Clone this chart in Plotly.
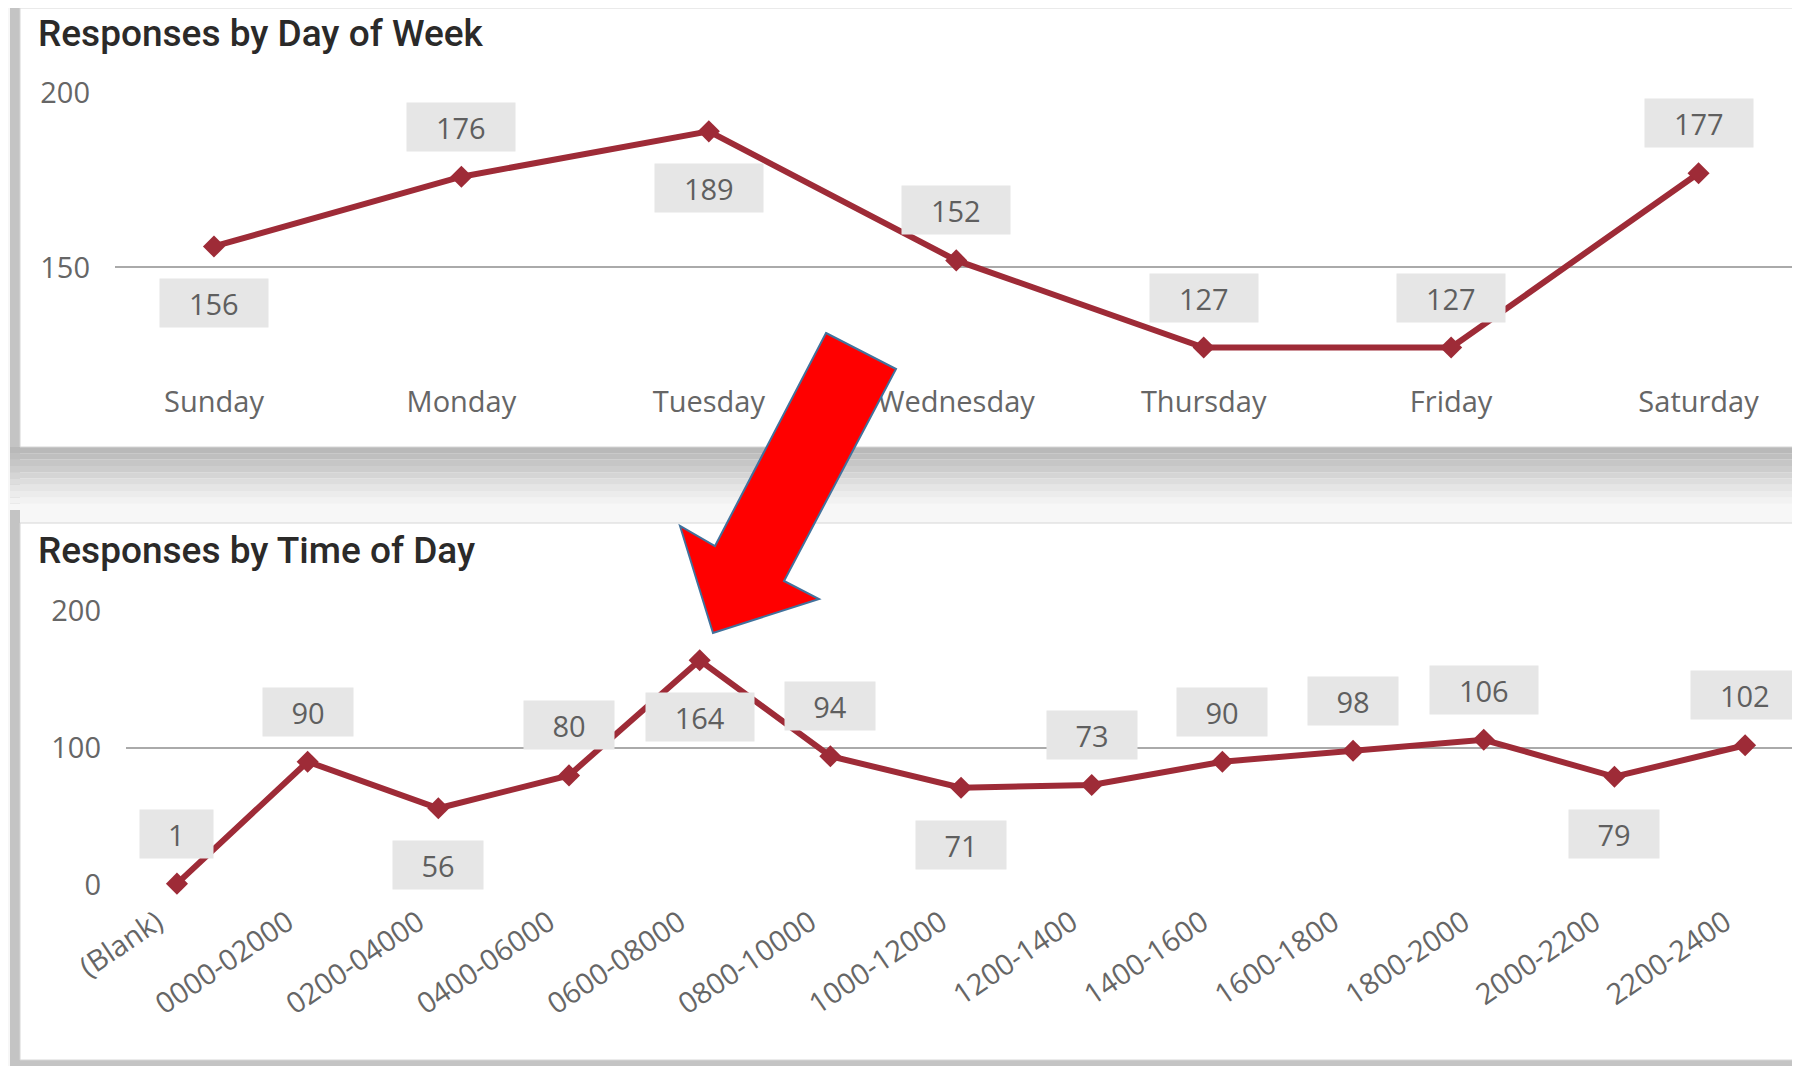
import plotly.graph_objs as go

days = ['Sunday', 'Monday', 'Tuesday', 'Wednesday', 'Thursday', 'Friday', 'Saturday']
day_counts = [156, 176, 189, 152, 127, 127, 177]

time_slots = ['(Blank)', '0000-02000', '0200-04000', '0400-06000', '0600-08000', '0800-10000',
              '1000-12000', '1200-1400', '1400-1600', '1600-1800', '1800-2000', '2000-2200', '2200-2400']
time_counts = [1, 90, 56, 80, 164, 94, 71, 73, 90, 98, 106, 79, 102]

day_ticks = [150, 200]
time_ticks = [0, 100, 200]

# where each data label sits relative to its point
day_label_side = ['below', 'above', 'below', 'above', 'above', 'above', 'above']
time_label_side = ['above', 'above', 'below', 'above', 'below', 'above', 'below',
                   'above', 'above', 'above', 'above', 'below', 'above']

# the page body adds an 8px margin, so the figure is drawn 8px smaller and offset
OFF = 8
W, H = 1800 - OFF, 1066 - OFF
LINE = '#9e2b37'
TICK_FONT = dict(family='Open Sans', size=29, color='#666666')


def px(x, y):
    return (x - OFF) / W, 1 - (y - OFF) / H


def rect(x0, y0, x1, y1, fill, line=None):
    a = px(x0, y0)
    b = px(x1, y1)
    return dict(type='rect', xref='paper', yref='paper', x0=a[0], y0=b[1], x1=b[0], y1=a[1],
                fillcolor=fill, line=dict(color=line or fill, width=1 if line else 0), layer='below')


fig = go.Figure()
fig.add_trace(go.Scatter(x=days, y=day_counts, mode='lines+markers', xaxis='x', yaxis='y',
                         line=dict(color=LINE, width=6), marker=dict(symbol='diamond', size=17, color=LINE),
                         cliponaxis=False, hoverinfo='x+y'))
fig.add_trace(go.Scatter(x=time_slots, y=time_counts, mode='lines+markers', xaxis='x2', yaxis='y2',
                         line=dict(color=LINE, width=6), marker=dict(symbol='diamond', size=17, color=LINE),
                         cliponaxis=False, hoverinfo='x+y'))

annotations = []


def add_labels(xs, ys, sides, xref, yref):
    for x, y, side in zip(xs, ys, sides):
        n = len(str(y))
        box_w = 55 + 17.5 * n
        annotations.append(dict(x=x, y=y, xref=xref, yref=yref, text=str(y), showarrow=False,
                                yshift=50 if side == 'above' else -57,
                                font=dict(family='Open Sans', size=29, color='#5f5f5f'),
                                bgcolor='#e6e6e6', borderpad=6, width=box_w - 12, height=36))


add_labels(days, day_counts, day_label_side, 'x', 'y')
add_labels(time_slots, time_counts, time_label_side, 'x2', 'y2')

title_font = dict(family='Roboto', size=37, color='#2b2a29', weight=500)
annotations.append(dict(x=px(36, 0)[0], y=px(0, 33)[1], xref='paper', yref='paper', xanchor='left',
                        yanchor='middle', text='Responses by Day of Week', showarrow=False, font=title_font))
annotations.append(dict(x=px(36, 0)[0], y=px(0, 550)[1], xref='paper', yref='paper', xanchor='left',
                        yanchor='middle', text='Responses by Time of Day', showarrow=False, font=title_font))

shapes = []
# card frames and shadows
shapes.append(rect(0, 0, 1800, 1066, '#f7f7f7'))
shapes.append(rect(10, 6, 20, 1066, '#c4c4c4'))
grays = ['#b9b9b9', '#bfbfbf', '#c6c6c6', '#cdcdcd', '#d5d5d5', '#dddddd', '#e5e5e5', '#ececec',
         '#f2f2f2', '#f7f7f7']
for i, g in enumerate(grays):
    shapes.append(rect(10, 447 + i * 6.3, 1795, 447 + (i + 1) * 6.3, g))
shapes.append(rect(10, 1060, 1800, 1066, '#c4c4c4'))
shapes.append(rect(20, 8, 1805, 447, 'white', '#d6d6d6'))
shapes.append(rect(20, 523, 1805, 1060, 'white', '#d6d6d6'))

# red callout arrow
arrow_pts = [(826, 333), (896, 369), (784, 581), (819, 599), (713, 633), (680, 526), (715, 546)]
path = 'M ' + ' L '.join(f'{px(x, y)[0]:.5f},{px(x, y)[1]:.5f}' for x, y in arrow_pts) + ' Z'
shapes.append(dict(type='path', xref='paper', yref='paper', path=path, fillcolor='#ff0000',
                   line=dict(color='#41719c', width=2), layer='above'))

top_y0, top_y1 = px(0, 365)[1], px(0, 93)[1]
bot_y0, bot_y1 = px(0, 885)[1], px(0, 611)[1]

fig.update_layout(
    template='none',
    width=W, height=H, margin=dict(l=0, r=0, t=0, b=0, pad=0, autoexpand=False),
    paper_bgcolor='white', plot_bgcolor='rgba(0,0,0,0)', showlegend=False,
    shapes=shapes, annotations=annotations,
    xaxis=dict(domain=[px(115, 0)[0], 1], range=[-0.4, 6.41], showgrid=False, zeroline=False,
               showline=False, ticks='', tickfont=TICK_FONT, ticklabelstandoff=17, automargin=False),
    yaxis=dict(domain=[top_y0, top_y1], range=[122, 200], tickvals=day_ticks, showgrid=True,
               gridcolor='#aaaaaa', gridwidth=2, zeroline=False, ticks='', tickfont=TICK_FONT,
               ticklabelstandoff=24, automargin=False),
    xaxis2=dict(domain=[px(126, 0)[0], 1], range=[-0.39, 12.42], showgrid=False, zeroline=False,
                showline=False, ticks='', tickfont=TICK_FONT, tickangle=-34, anchor='y2',
                ticklabelstandoff=14, ticklabelshift=-20, automargin=False),
    yaxis2=dict(domain=[bot_y0, bot_y1], range=[0, 200], tickvals=time_ticks, showgrid=True,
                gridcolor='#aaaaaa', gridwidth=2, zeroline=False, ticks='', tickfont=TICK_FONT,
                anchor='x2', ticklabelstandoff=24, automargin=False),
)

fig.write_html('out.html')
